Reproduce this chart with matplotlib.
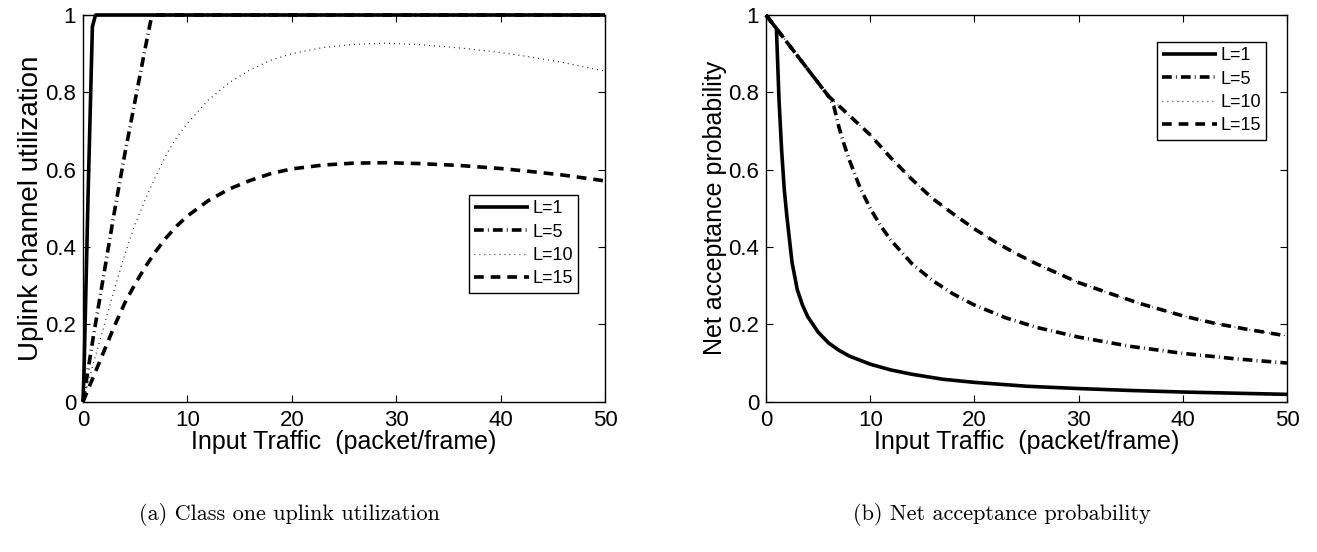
# Uplink utilization and net acceptance probability vs input traffic
import matplotlib
matplotlib.use('Agg')
import matplotlib.pyplot as plt

# 1 - DATA

# (a) uplink channel utilization
util_x_L1 = [0, 0.1, 0.5, 0.9, 1.2, 50]
util_y_L1 = [0, 0.08, 0.55, 0.97, 1.0, 1.0]

util_x_L5 = [0, 1, 2, 3, 4, 5, 6, 6.6, 50]
util_y_L5 = [0, 0.17, 0.33, 0.49, 0.64, 0.78, 0.92, 1.0, 1.0]

util_x_L10 = [0, 1, 2, 3, 4, 5, 6, 7, 8, 9, 10, 12, 14, 16, 18, 20, 23, 26, 29, 32, 36, 40, 43, 46, 50]
util_y_L10 = [0, 0.1, 0.195, 0.29, 0.38, 0.46, 0.525, 0.585, 0.64, 0.685, 0.72, 0.78, 0.825, 0.858,
              0.883, 0.9, 0.916, 0.924, 0.927, 0.924, 0.915, 0.903, 0.891, 0.877, 0.855]

util_x_L15 = [0, 1, 2, 3, 4, 5, 6, 7, 8, 9, 10, 12, 14, 16, 18, 20, 23, 26, 29, 32, 36, 40, 43, 46, 50]
util_y_L15 = [0, 0.065, 0.13, 0.195, 0.255, 0.305, 0.35, 0.39, 0.425, 0.455, 0.48, 0.52, 0.55, 0.572,
              0.59, 0.602, 0.612, 0.617, 0.618, 0.616, 0.611, 0.603, 0.595, 0.586, 0.571]

# (b) net acceptance probability
acc_x_L1 = [0, 1, 1.25, 1.5, 1.75, 2, 2.5, 3, 3.5, 4, 5, 6, 7, 8, 10, 12, 14, 17, 20, 25, 30, 35, 40, 45, 50]
acc_y_L1 = [1, 0.965, 0.78, 0.65, 0.55, 0.48, 0.36, 0.29, 0.25, 0.22, 0.18, 0.152, 0.133, 0.118, 0.097,
            0.082, 0.071, 0.058, 0.05, 0.04, 0.034, 0.029, 0.025, 0.022, 0.019]

acc_x_L5 = [0, 1, 2, 3, 4, 5, 6, 6.5, 7, 7.5, 8, 9, 10, 11, 12, 14, 16, 18, 20, 23, 26, 30, 35, 40, 45, 50]
acc_y_L5 = [1, 0.965, 0.93, 0.895, 0.86, 0.825, 0.79, 0.765, 0.71, 0.665, 0.625, 0.555, 0.5, 0.455,
            0.417, 0.357, 0.313, 0.278, 0.25, 0.217, 0.192, 0.167, 0.143, 0.125, 0.111, 0.1]

# L=10 and L=15 lie on top of each other
acc_x_L10 = [0, 1, 2, 3, 4, 5, 6, 8, 10, 12, 14, 16, 18, 20, 22, 24, 26, 28, 30, 33, 36, 40, 43, 46, 50]
acc_y_L10 = [1, 0.965, 0.93, 0.895, 0.86, 0.825, 0.79, 0.74, 0.69, 0.63, 0.575, 0.525, 0.485, 0.447,
             0.413, 0.383, 0.356, 0.332, 0.308, 0.28, 0.253, 0.222, 0.203, 0.188, 0.17]
acc_x_L15 = acc_x_L10
acc_y_L15 = acc_y_L10

labels = ['L=1', 'L=5', 'L=10', 'L=15']
x_ticks = [0, 10, 20, 30, 40, 50]
y_ticks = [0, 0.2, 0.4, 0.6, 0.8, 1]
y_ticklabels = ['0', '0.2', '0.4', '0.6', '0.8', '1']

# 2 - STYLE
plt.rcParams['font.family'] = ['Liberation Sans', 'DejaVu Sans']
plt.rcParams['lines.scale_dashes'] = False

styles = [
    dict(linestyle='-', linewidth=2.6),
    dict(linestyle=(0, (7, 3, 0.6, 3)), linewidth=2.6),
    dict(linestyle=(0, (0.6, 3)), linewidth=0.9),
    dict(linestyle=(0, (7, 5)), linewidth=2.6),
]

fig = plt.figure(figsize=(13.17, 5.52), dpi=100)
ax1 = fig.add_axes([83 / 1317, 1 - 401.7 / 552, 522 / 1317, 386.7 / 552])
ax2 = fig.add_axes([766 / 1317, 1 - 401.7 / 552, 521 / 1317, 386.7 / 552])


def setup(ax, ylabel, ysize):
    ax.set_xlim(0, 50)
    ax.set_ylim(0, 1)
    ax.set_xticks(x_ticks)
    ax.set_yticks(y_ticks)
    ax.set_yticklabels(y_ticklabels)
    ax.tick_params(direction='in', top=True, right=True, length=5, width=0.8,
                   labelsize=16)
    ax.tick_params(axis='x', pad=6)
    ax.tick_params(axis='y', pad=5)
    ax.set_xlabel('Input Traffic  (packet/frame)', fontsize=18, labelpad=-1)
    ax.set_ylabel(ylabel, fontsize=ysize, labelpad=1)
    for s in ax.spines.values():
        s.set_linewidth(1.0)


def add_legend(ax, x0, y0):
    ax.legend(loc='upper left', bbox_to_anchor=(x0 / 1317, 1 - y0 / 552),
              bbox_transform=fig.transFigure, fontsize=13, frameon=True,
              fancybox=False, edgecolor='black', framealpha=1, borderpad=0.3,
              labelspacing=0.35, handlelength=3.0, handletextpad=0.2,
              borderaxespad=0)


# 3 - PLOTS

# 3.1 utilization
util = [(util_x_L1, util_y_L1), (util_x_L5, util_y_L5),
        (util_x_L10, util_y_L10), (util_x_L15, util_y_L15)]
for (x, y), st, lab in zip(util, styles, labels):
    ax1.plot(x, y, color='black', label=lab, solid_capstyle='butt',
             dash_capstyle='butt', clip_on=False, **st)
setup(ax1, 'Uplink channel utilization', 20)
add_legend(ax1, 469, 195)

# 3.2 net acceptance
acc = [(acc_x_L1, acc_y_L1), (acc_x_L5, acc_y_L5),
       (acc_x_L10, acc_y_L10), (acc_x_L15, acc_y_L15)]
for (x, y), st, lab in zip(acc, styles, labels):
    ax2.plot(x, y, color='black', label=lab, solid_capstyle='butt',
             dash_capstyle='butt', clip_on=False, **st)
setup(ax2, 'Net acceptance probability', 18)
add_legend(ax2, 1157, 42)

# 4 - CAPTIONS
fig.text(289 / 1317, 1 - 515 / 552, '(a) Class one uplink utilization',
         ha='center', va='center', fontsize=16, family='cmr10')
fig.text(1002 / 1317, 1 - 515 / 552, '(b) Net acceptance probability',
         ha='center', va='center', fontsize=16, family='cmr10')

fig.savefig('out.png', dpi=100)
